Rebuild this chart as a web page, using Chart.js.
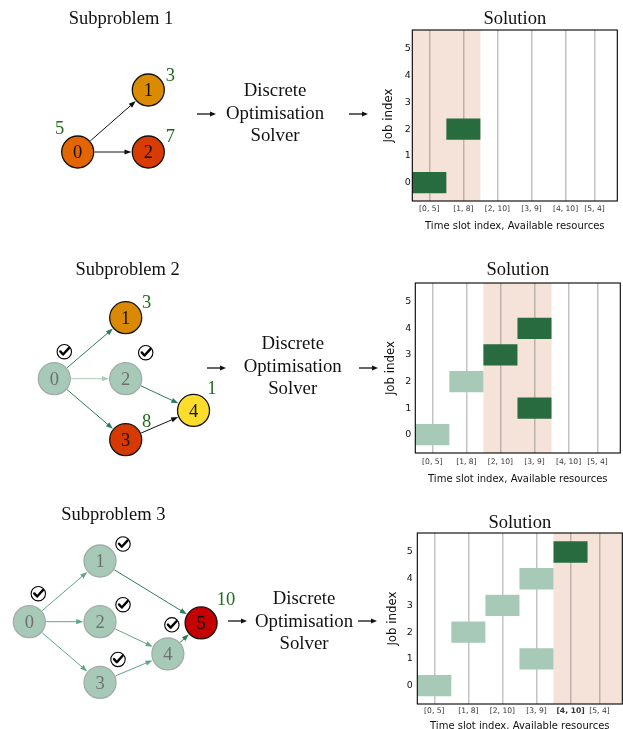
<!DOCTYPE html>
<html><head><meta charset="utf-8">
<script src="https://cdn.jsdelivr.net/npm/chart.js@4.4.1/dist/chart.umd.min.js"></script>
<style>
html,body{margin:0;padding:0;background:#fff;width:623px;height:729px;overflow:hidden;position:relative;}
.abs{position:absolute;}
.serif{font-family:"Liberation Serif","Times New Roman",serif;color:#111;text-align:center;white-space:nowrap;}
.mid{font-size:18.8px;line-height:22.5px;width:140px;}
.sub{font-size:18.5px;line-height:22.5px;width:160px;}
</style></head><body>
<canvas id="g1" class="abs" width="260" height="250" style="left:0;top:0"></canvas>
<canvas id="g2" class="abs" width="260" height="230" style="left:0;top:255px"></canvas>
<canvas id="g3" class="abs" width="260" height="229" style="left:0;top:500px"></canvas>
<canvas id="s1" class="abs" width="243" height="240" style="left:380px;top:0"></canvas>
<canvas id="s2" class="abs" width="243" height="240" style="left:380px;top:253px"></canvas>
<canvas id="s3" class="abs" width="243" height="240" style="left:380px;top:505px"></canvas>

<div class="abs serif sub" style="left:41px;top:6.5px">Subproblem 1</div>
<div class="abs serif sub" style="left:47.7px;top:258.2px">Subproblem 2</div>
<div class="abs serif sub" style="left:33.3px;top:503.2px">Subproblem 3</div>

<div class="abs serif mid" style="left:205px;top:79.1px">Discrete<br>Optimisation<br>Solver</div>
<div class="abs serif mid" style="left:222.7px;top:332.4px">Discrete<br>Optimisation<br>Solver</div>
<div class="abs serif mid" style="left:234px;top:587.4px">Discrete<br>Optimisation<br>Solver</div>

<svg class="abs" style="left:196px;top:108px" width="22" height="12"><line x1="1" y1="6" x2="15" y2="6" stroke="#111" stroke-width="1.3"/><path d="M20,6 L14,3.4 L14,8.6 Z" fill="#111"/></svg>
<svg class="abs" style="left:348px;top:108px" width="22" height="12"><line x1="1" y1="6" x2="15" y2="6" stroke="#111" stroke-width="1.3"/><path d="M20,6 L14,3.4 L14,8.6 Z" fill="#111"/></svg>
<svg class="abs" style="left:206px;top:361.7px" width="22" height="12"><line x1="1" y1="6" x2="15" y2="6" stroke="#111" stroke-width="1.3"/><path d="M20,6 L14,3.4 L14,8.6 Z" fill="#111"/></svg>
<svg class="abs" style="left:358px;top:361.7px" width="22" height="12"><line x1="1" y1="6" x2="15" y2="6" stroke="#111" stroke-width="1.3"/><path d="M20,6 L14,3.4 L14,8.6 Z" fill="#111"/></svg>
<svg class="abs" style="left:227px;top:615px" width="22" height="12"><line x1="1" y1="6" x2="15" y2="6" stroke="#111" stroke-width="1.3"/><path d="M20,6 L14,3.4 L14,8.6 Z" fill="#111"/></svg>
<svg class="abs" style="left:357px;top:615px" width="22" height="12"><line x1="1" y1="6" x2="15" y2="6" stroke="#111" stroke-width="1.3"/><path d="M20,6 L14,3.4 L14,8.6 Z" fill="#111"/></svg>

<script>
// ---------------- data ----------------
const slotLabels = ['[0, 5]', '[1, 8]', '[2, 10]', '[3, 9]', '[4, 10]', '[5, 4]'];
const slotTickValues = [0, 1, 2, 3, 4, 4.85];
const jobTicks = [0, 1, 2, 3, 4, 5];

const sol1Jobs = [0, 2];
const sol1Slots = [0, 1];
const sol1Done = [false, false];
const sol1Window = [0, 1];

const sol2Jobs = [0, 2, 3, 4, 1];
const sol2Slots = [0, 1, 2, 3, 3];
const sol2Done = [true, true, false, false, false];
const sol2Window = [2, 3];

const sol3Jobs = [0, 2, 3, 4, 1, 5];
const sol3Slots = [0, 1, 2, 3, 3, 4];
const sol3Done = [true, true, true, true, true, false];
const sol3Window = [4, 5];

// graphs (layout column / row, weights, completion, edges)
const g1Nodes = [0, 1, 2];
const g1Col = [0, 1, 1];
const g1Row = [1, 0, 1];
const g1Weights = [5, 3, 7];
const g1Done = [false, false, false];
const g1Edges = [[0, 1], [0, 2]];

const g2Nodes = [0, 1, 2, 3, 4];
const g2Col = [0, 1, 1, 1, 1.95];
const g2Row = [1, 0, 1, 2, 1.52];
const g2Weights = [null, 3, null, 8, 1];
const g2Done = [true, false, true, false, false];
const g2Edges = [[0, 1], [0, 2], [0, 3], [2, 4], [3, 4]];

const g3Nodes = [0, 1, 2, 3, 4, 5];
const g3Col = [0, 1, 1, 1, 1.96, 2.43];
const g3Row = [1, 0, 1, 2, 1.53, 1.02];
const g3Weights = [null, null, null, null, null, 10];
const g3Done = [true, true, true, true, true, false];
const g3Edges = [[0, 1], [0, 2], [0, 3], [2, 4], [3, 4], [1, 5], [4, 5]];

// ---------------- styles ----------------
const SERIF = '"Liberation Serif", "Times New Roman", serif';
const SANS = '"DejaVu Sans", sans-serif';
const DARK = '#276b3f', LIGHT = '#a6c9b8', SHADE = '#f5e2d8', GRID = 'rgba(110,110,110,0.42)';
const NODE_R = 16;
const EDGE_COL = {black: '#111111', dark: '#2b7c5a', light: '#a9cdbb', mid: '#5ea787'};
const DONE_FILL = '#a7c9b8', DONE_BORDER = '#a3aba7', DONE_TEXT = '#6f6f6f';
const WEIGHT_COL = '#1e6b1e';

const g1Style = {
  fill: ['#e36500', '#da8b00', '#d93c00'],
  tone: ['black', 'black'],
  weightOff: [[-18, -24], [22, -15], [22, -16]],
  checkOff: []
};
const g2Style = {
  fill: [null, '#d98a00', null, '#d63a00', '#fddd2c'],
  tone: ['dark', 'light', 'dark', 'dark', 'black'],
  weightOff: [null, [21, -16], null, [21, -19], [18.4, -23]],
  checkOff: [[10, -27], null, [20, -26], null, null]
};
const g3Style = {
  fill: [null, null, null, null, null, '#c40000'],
  tone: ['mid', 'mid', 'mid', 'mid', 'mid', 'dark', 'dark'],
  weightOff: [null, null, null, null, null, [25, -24]],
  checkOff: [[9, -28], [23, -17], [23, -17], [18, -23], [4, -29], null]
};

function drawCheck(ctx, cx, cy) {
  ctx.save();
  ctx.strokeStyle = '#000';
  ctx.beginPath(); ctx.arc(cx, cy, 7.2, 0, Math.PI * 2); ctx.lineWidth = 1.1; ctx.stroke();
  ctx.beginPath();
  ctx.moveTo(cx - 4, cy - 0.3); ctx.lineTo(cx - 1.2, cy + 2.8); ctx.lineTo(cx + 4.6, cy - 3.6);
  ctx.lineWidth = 2.4; ctx.lineCap = 'round'; ctx.lineJoin = 'round'; ctx.stroke();
  ctx.restore();
}

function graphChart(id, g, st, geo) {
  const cv = document.getElementById(id);
  const W = cv.width, H = cv.height;
  const pts = g.nodes.map((n, i) => ({x: g.col[i], y: g.row[i]}));
  const decor = {
    id: 'graphDecor',
    beforeDatasetsDraw(chart) {
      const ctx = chart.ctx, xs = chart.scales.x, ys = chart.scales.y;
      const px = i => xs.getPixelForValue(g.col[i]);
      const py = i => ys.getPixelForValue(g.row[i]);
      ctx.save();
      g.edges.forEach((e, k) => {
        const a = e[0], b = e[1];
        const x1 = px(a), y1 = py(a), x2 = px(b), y2 = py(b);
        const dx = x2 - x1, dy = y2 - y1, L = Math.hypot(dx, dy);
        const ux = dx / L, uy = dy / L;
        const r = NODE_R + 0.8;
        const sx = x1 + ux * r, sy = y1 + uy * r, ex = x2 - ux * r, ey = y2 - uy * r;
        const col = EDGE_COL[st.tone[k]];
        const hl = 7, hw = 2.6;
        ctx.strokeStyle = col; ctx.fillStyle = col; ctx.lineWidth = 1;
        ctx.beginPath(); ctx.moveTo(sx, sy); ctx.lineTo(ex - ux * hl * 0.7, ey - uy * hl * 0.7); ctx.stroke();
        ctx.beginPath();
        ctx.moveTo(ex, ey);
        ctx.lineTo(ex - ux * hl - uy * hw, ey - uy * hl + ux * hw);
        ctx.lineTo(ex - ux * hl + uy * hw, ey - uy * hl - ux * hw);
        ctx.closePath(); ctx.fill();
      });
      ctx.restore();
    },
    afterDatasetsDraw(chart) {
      const ctx = chart.ctx, xs = chart.scales.x, ys = chart.scales.y;
      ctx.save();
      ctx.textAlign = 'center'; ctx.textBaseline = 'alphabetic';
      ctx.font = '18.5px ' + SERIF;
      g.nodes.forEach((n, i) => {
        const x = xs.getPixelForValue(g.col[i]), y = ys.getPixelForValue(g.row[i]);
        ctx.fillStyle = g.done[i] ? DONE_TEXT : '#111';
        ctx.fillText(String(n), x, y + 6.3);
        if (g.weights[i] !== null && st.weightOff[i]) {
          ctx.fillStyle = WEIGHT_COL;
          ctx.fillText(String(g.weights[i]), x + st.weightOff[i][0], y + st.weightOff[i][1] + 6.3);
        }
        if (g.done[i] && st.checkOff[i]) {
          drawCheck(ctx, x + st.checkOff[i][0], y + st.checkOff[i][1]);
        }
      });
      ctx.restore();
    }
  };
  return new Chart(cv, {
    type: 'scatter',
    data: {datasets: [{
      data: pts,
      pointRadius: NODE_R, pointHoverRadius: NODE_R,
      pointBackgroundColor: g.nodes.map((n, i) => g.done[i] ? DONE_FILL : st.fill[i]),
      pointBorderColor: g.nodes.map((n, i) => g.done[i] ? DONE_BORDER : '#111'),
      pointBorderWidth: 1.3,
      clip: false
    }]},
    options: {
      responsive: false, animation: false, events: [],
      layout: {padding: 0, autoPadding: false},
      plugins: {legend: {display: false}, tooltip: {enabled: false}, title: {display: false}},
      scales: {
        x: {type: 'linear', display: false, min: -geo.ox / geo.ux, max: (W - geo.ox) / geo.ux},
        y: {type: 'linear', display: false, reverse: true, min: -geo.oy / geo.uy, max: (H - geo.oy) / geo.uy}
      }
    },
    plugins: [decor]
  });
}

function solutionChart(id, jobs, slots, done, win, boldIdx, geo) {
  const cv = document.getElementById(id);
  const cW = cv.width, cH = cv.height, cLeft = 380;
  const tSize = 18.5, tLH = 1.1;
  const tMid = geo.titleBase - 0.305 * tSize - geo.cTop;
  const tTop = tMid - tSize * tLH / 2;
  const tBot = (geo.pT - geo.cTop) - tTop - tSize * tLH;
  const yW = geo.pL - cLeft;
  const rightPad = cLeft + cW - geo.pR;
  const xH = geo.cTop + cH - geo.pB;
  const xTickPad = (geo.xTickY - geo.pB) - 7.6 * 1.2 / 2;
  const xTitlePB = (geo.cTop + cH - geo.xTitleY) - 10 * 1.2 / 2;
  const yTitlePT = (geo.yTitleX - cLeft) - 11.8 * 1.2 / 2;

  const shade = {
    id: 'shade',
    beforeDraw(chart) {
      const a = chart.chartArea, xs = chart.scales.x, ctx = chart.ctx;
      const x1 = Math.max(a.left, xs.getPixelForValue(win[0] - 0.5));
      const x2 = Math.min(a.right, xs.getPixelForValue(win[1] + 0.5));
      ctx.save(); ctx.fillStyle = SHADE; ctx.fillRect(x1, a.top, x2 - x1, a.bottom - a.top); ctx.restore();
    }
  };
  const frame = {
    id: 'frame',
    afterDraw(chart) {
      const a = chart.chartArea, ctx = chart.ctx;
      ctx.save(); ctx.strokeStyle = '#000'; ctx.lineWidth = 1.1;
      ctx.strokeRect(a.left, a.top, a.right - a.left, a.bottom - a.top); ctx.restore();
    }
  };
  return new Chart(cv, {
    type: 'bar',
    data: {datasets: [{
      data: jobs.map((j, i) => ({y: j, x: [slots[i] - 0.5, slots[i] + 0.5]})),
      backgroundColor: done.map(d => d ? LIGHT : DARK),
      borderWidth: 0, borderSkipped: false,
      barPercentage: 0.8, categoryPercentage: 1
    }]},
    options: {
      indexAxis: 'y', responsive: false, animation: false, events: [],
      layout: {padding: {left: 0, top: 0, bottom: 0, right: rightPad}, autoPadding: false},
      plugins: {
        legend: {display: false}, tooltip: {enabled: false},
        title: {display: true, text: 'Solution', fullSize: false, color: '#111',
          font: {family: SERIF, size: tSize, lineHeight: tLH, weight: 'normal'},
          padding: {top: tTop, bottom: tBot}}
      },
      scales: {
        x: {
          type: 'linear', position: 'bottom', min: -0.5, max: 5.52, offset: false,
          afterBuildTicks: s => { s.ticks = slotTickValues.map(v => ({value: v})); },
          afterFit: s => { s.height = xH; },
          ticks: {
            autoSkip: false, maxRotation: 0, minRotation: 0, padding: xTickPad, color: '#333',
            callback: (v, i) => slotLabels[i],
            font: c => ({family: SANS, size: 7.6, weight: c.index === boldIdx ? 'bold' : 'normal'})
          },
          grid: {color: GRID, lineWidth: 1.5, drawTicks: false},
          border: {display: false},
          title: {display: true, text: 'Time slot index, Available resources', color: '#111',
            font: {family: SANS, size: 10}, padding: {top: 0, bottom: xTitlePB}}
        },
        y: {
          type: 'linear', position: 'left', min: -0.69, max: 5.71, offset: false,
          afterBuildTicks: s => { s.ticks = jobTicks.map(v => ({value: v})); },
          afterFit: s => { s.width = yW; },
          ticks: {padding: geo.yTickPad, color: '#111', font: {family: SANS, size: 9.5}},
          grid: {display: false, drawTicks: false},
          border: {display: false},
          title: {display: true, text: 'Job index', color: '#111',
            font: {family: SANS, size: 11.8}, padding: {top: yTitlePT, bottom: 0}}
        }
      }
    },
    plugins: [shade, frame]
  });
}

graphChart('g1', {nodes: g1Nodes, col: g1Col, row: g1Row, weights: g1Weights, done: g1Done, edges: g1Edges}, g1Style,
  {ox: 77.7, oy: 90, ux: 70.6, uy: 62});
graphChart('g2', {nodes: g2Nodes, col: g2Col, row: g2Row, weights: g2Weights, done: g2Done, edges: g2Edges}, g2Style,
  {ox: 54.3, oy: 62.7, ux: 71.4, uy: 61});
graphChart('g3', {nodes: g3Nodes, col: g3Col, row: g3Row, weights: g3Weights, done: g3Done, edges: g3Edges}, g3Style,
  {ox: 29.3, oy: 61, ux: 70.7, uy: 60.7});

solutionChart('s1', sol1Jobs, sol1Slots, sol1Done, sol1Window, -1,
  {cTop: 0, pL: 412.3, pR: 617.3, pT: 30, pB: 201, titleBase: 24.3, yTickPad: 1.5, yTitleX: 389, xTickY: 209.3, xTitleY: 226});
solutionChart('s2', sol2Jobs, sol2Slots, sol2Done, sol2Window, -1,
  {cTop: 253, pL: 415.3, pR: 620.3, pT: 283, pB: 453, titleBase: 276, yTickPad: 4, yTitleX: 391.3, xTickY: 461.7, xTitleY: 479});
solutionChart('s3', sol3Jobs, sol3Slots, sol3Done, sol3Window, 4,
  {cTop: 505, pL: 417.3, pR: 622.3, pT: 533, pB: 704, titleBase: 528.3, yTickPad: 4.5, yTitleX: 393.3, xTickY: 710.7, xTitleY: 726.7});
</script>
</body></html>
